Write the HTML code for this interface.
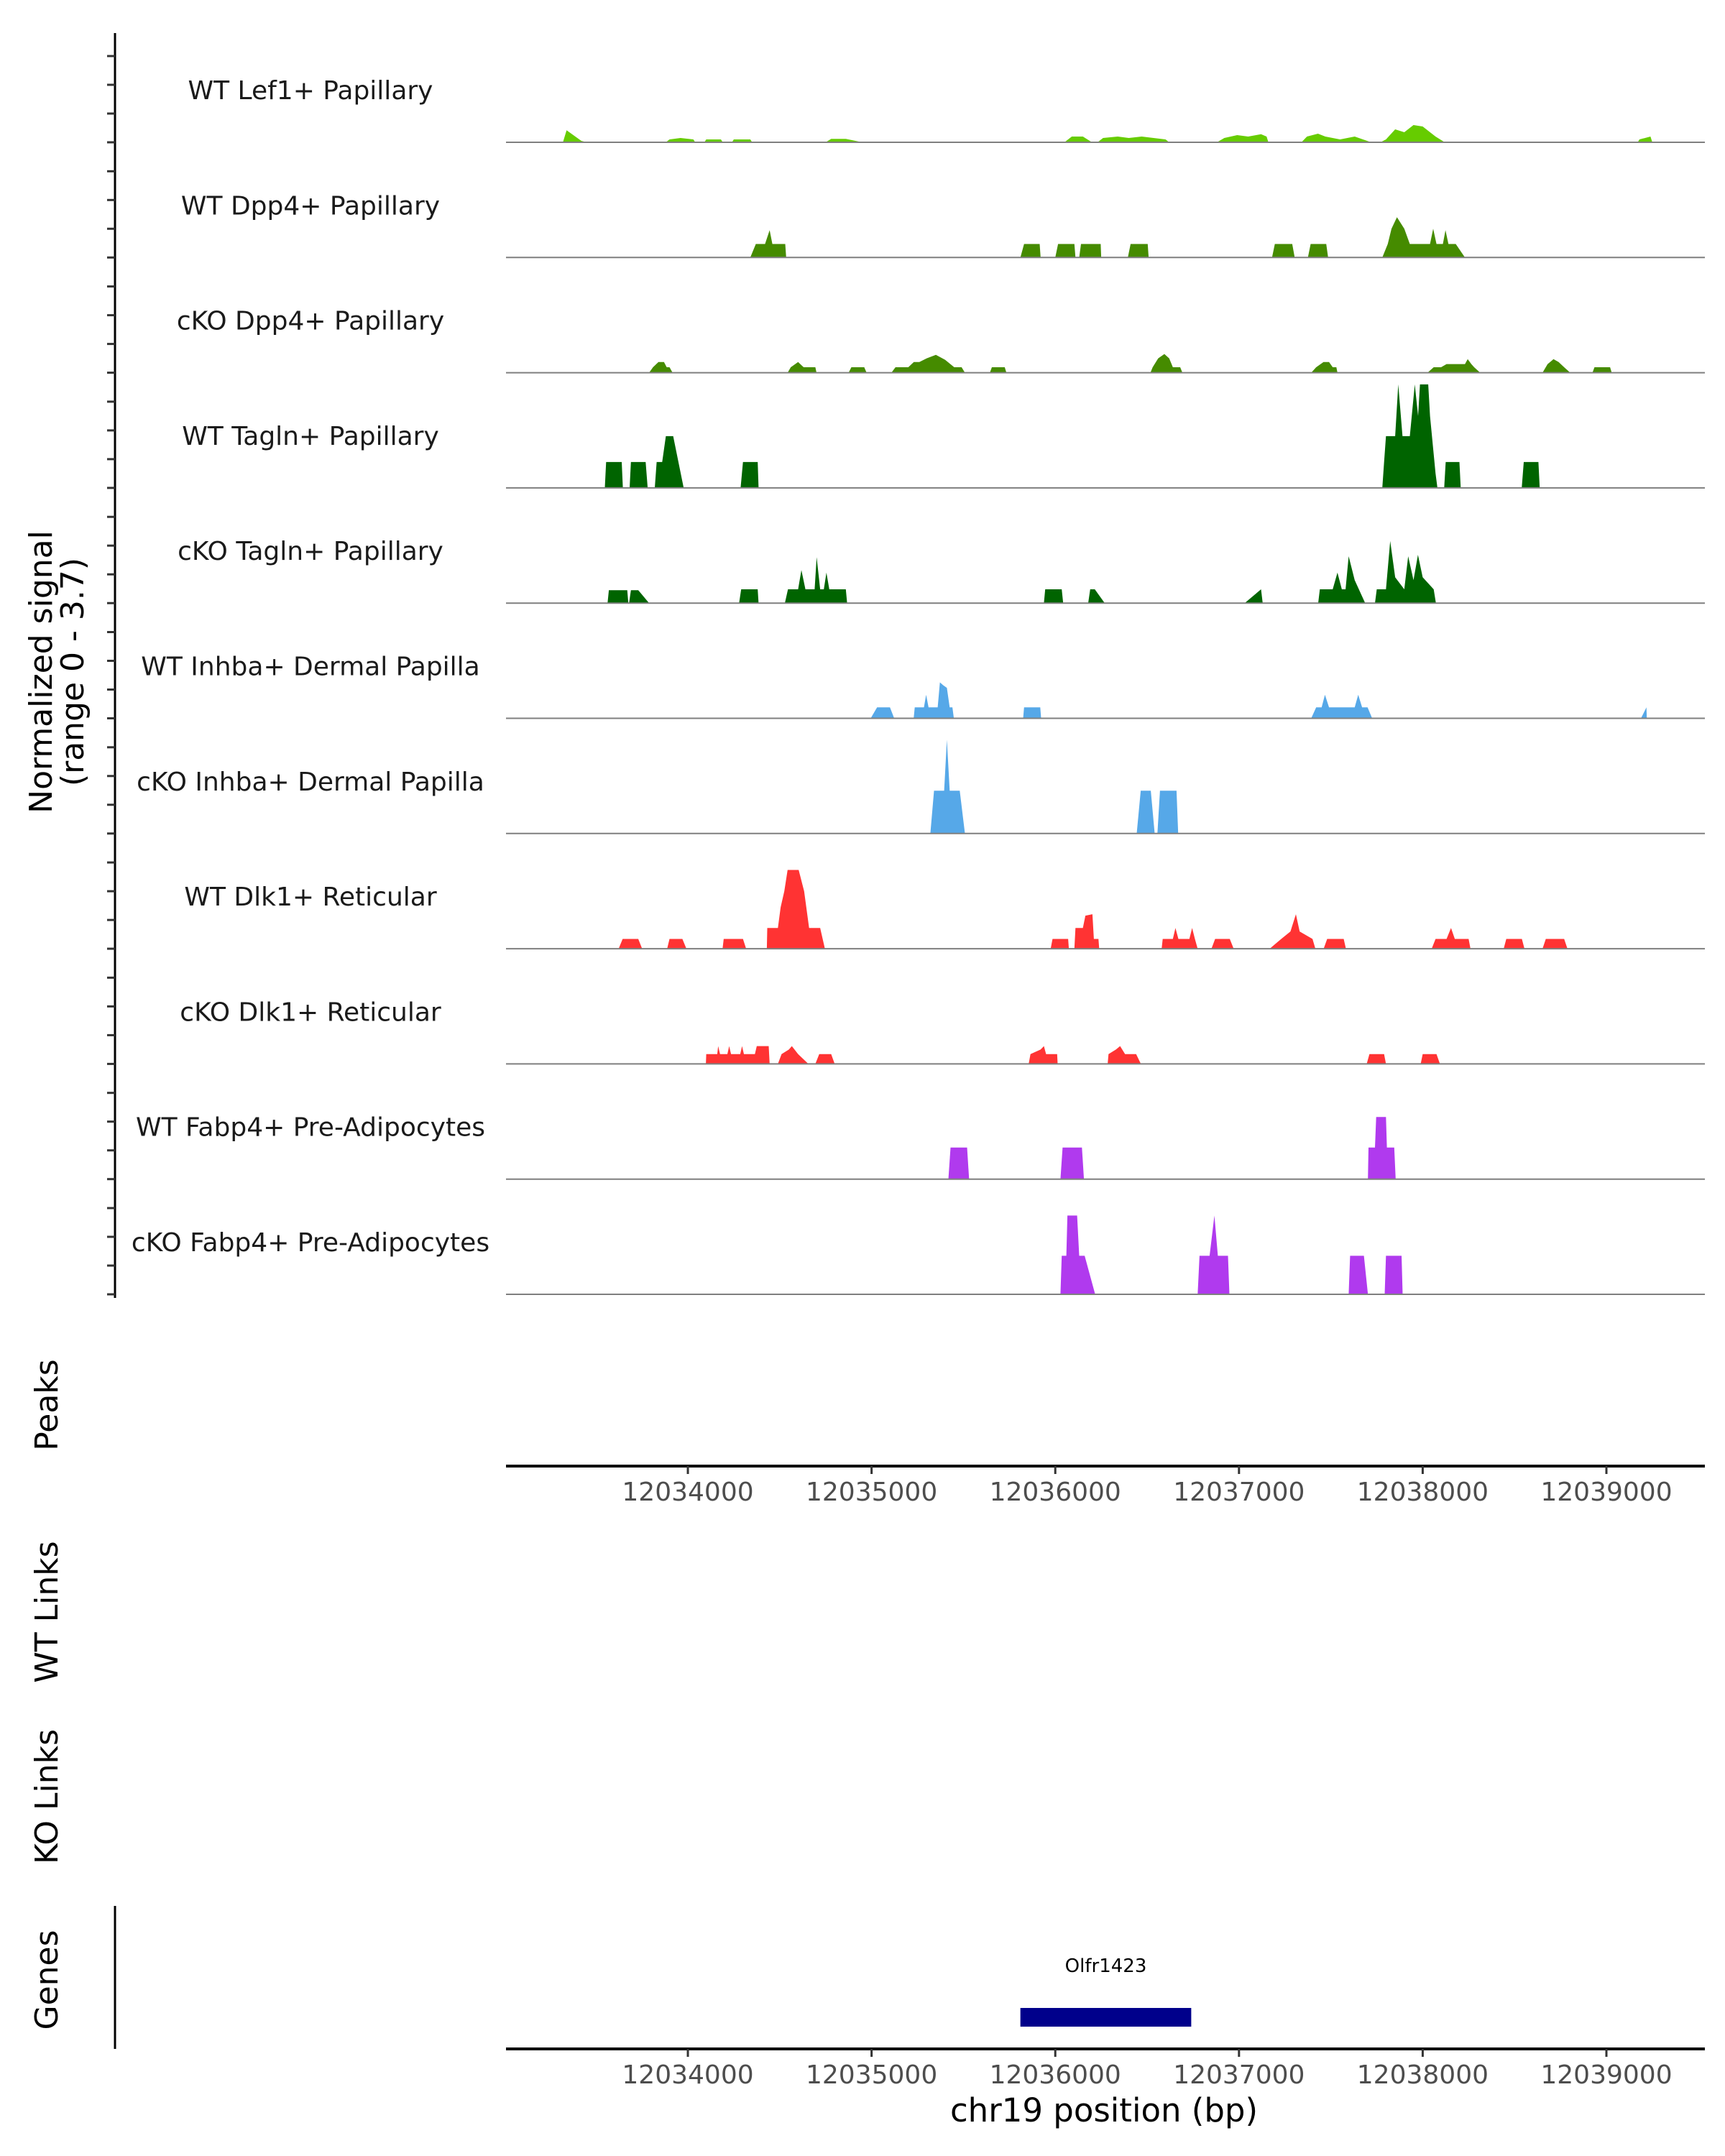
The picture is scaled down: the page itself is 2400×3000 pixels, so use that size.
<!DOCTYPE html>
<html><head><meta charset="utf-8"><style>
body{margin:0;background:#fff}
svg{display:block}
text{font-family:"DejaVu Sans","Liberation Sans",sans-serif}
</style></head><body>
<svg id="chart" width="2400" height="3000" viewBox="0 0 2400 3000" xmlns="http://www.w3.org/2000/svg">
<g id="tracks"></g>
<g id="axes"></g>
</svg>
<script>
const trackNames = ["WT Lef1+ Papillary","WT Dpp4+ Papillary","cKO Dpp4+ Papillary","WT Tagln+ Papillary","cKO Tagln+ Papillary","WT Inhba+ Dermal Papilla","cKO Inhba+ Dermal Papilla","WT Dlk1+ Reticular","cKO Dlk1+ Reticular","WT Fabp4+ Pre-Adipocytes","cKO Fabp4+ Pre-Adipocytes"];
const trackColors = ["#66CC00","#458B00","#458B00","#006400","#006400","#56A8E8","#56A8E8","#FF3333","#FF3333","#B03AEE","#B03AEE"];
const xTicks = [12034000,12035000,12036000,12037000,12038000,12039000];
const geneStart = 12035810, geneEnd = 12036740, geneName = "Olfr1423";
const lef1 = [
 [[12033320,0],[12033340,0.42],[12033420,0.05],[12033450,0]],
 [[12033880,0],[12033900,0.1],[12033960,0.15],[12034030,0.1],[12034040,0]],
 [[12034090,0],[12034100,0.1],[12034180,0.1],[12034190,0]],
 [[12034240,0],[12034250,0.1],[12034340,0.1],[12034350,0]],
 [[12034750,0],[12034780,0.12],[12034860,0.12],[12034950,0]],
 [[12036050,0],[12036090,0.2],[12036150,0.2],[12036200,0]],
 [[12036230,0],[12036260,0.15],[12036340,0.2],[12036400,0.15],[12036470,0.2],[12036600,0.1],[12036620,0]],
 [[12036880,0],[12036920,0.15],[12036990,0.25],[12037050,0.2],[12037120,0.28],[12037150,0.2],[12037160,0]],
 [[12037340,0],[12037370,0.2],[12037430,0.3],[12037470,0.2],[12037550,0.1],[12037630,0.2],[12037720,0]],
 [[12037770,0],[12037800,0.1],[12037850,0.45],[12037900,0.35],[12037950,0.6],[12038000,0.55],[12038070,0.2],[12038120,0]],
 [[12039170,0],[12039180,0.1],[12039240,0.2],[12039250,0]]
];
const wtDpp4 = [
 [[12034340,0],[12034370,0.47],[12034420,0.47],[12034445,0.95],[12034460,0.47],[12034530,0.47],[12034535,0]],
 [[12035810,0],[12035830,0.47],[12035915,0.47],[12035920,0]],
 [[12036000,0],[12036015,0.47],[12036104,0.47],[12036110,0]],
 [[12036130,0],[12036140,0.47],[12036247,0.47],[12036250,0]],
 [[12036395,0],[12036410,0.47],[12036503,0.47],[12036508,0]],
 [[12037180,0],[12037195,0.47],[12037290,0.47],[12037303,0]],
 [[12037375,0],[12037390,0.47],[12037475,0.47],[12037485,0]],
 [[12037780,0],[12037810,0.47],[12037830,1.0],[12037860,1.4],[12037900,1.0],[12037930,0.47],[12038040,0.47],[12038057,1.0],[12038075,0.47],[12038110,0.47],[12038124,0.95],[12038140,0.47],[12038180,0.47],[12038230,0]]
];
const koDpp4 = [
 [[12033789,0],[12033810,0.19],[12033840,0.37],[12033870,0.37],[12033885,0.19],[12033900,0.19],[12033917,0]],
 [[12034543,0],[12034560,0.19],[12034600,0.37],[12034630,0.19],[12034694,0.19],[12034700,0]],
 [[12034875,0],[12034890,0.19],[12034960,0.19],[12034973,0]],
 [[12035108,0],[12035130,0.19],[12035200,0.19],[12035230,0.37],[12035260,0.37],[12035300,0.5],[12035350,0.62],[12035400,0.45],[12035450,0.19],[12035490,0.19],[12035508,0]],
 [[12035644,0],[12035655,0.19],[12035725,0.19],[12035734,0]],
 [[12036518,0],[12036530,0.19],[12036560,0.5],[12036594,0.65],[12036620,0.5],[12036640,0.19],[12036680,0.19],[12036692,0]],
 [[12037393,0],[12037420,0.19],[12037460,0.37],[12037490,0.37],[12037510,0.19],[12037530,0.19],[12037536,0]],
 [[12038026,0],[12038060,0.19],[12038100,0.19],[12038130,0.3],[12038230,0.3],[12038245,0.47],[12038265,0.3],[12038280,0.19],[12038313,0]],
 [[12038652,0],[12038680,0.3],[12038712,0.47],[12038740,0.37],[12038770,0.19],[12038803,0]],
 [[12038924,0],[12038935,0.19],[12039020,0.19],[12039029,0]]
];
const wtTagln = [
 [[12033548,0],[12033555,0.9],[12033640,0.9],[12033646,0]],
 [[12033683,0],[12033690,0.9],[12033770,0.9],[12033781,0]],
 [[12033820,0],[12033830,0.9],[12033860,0.9],[12033880,1.8],[12033920,1.8],[12033977,0]],
 [[12034287,0],[12034300,0.9],[12034380,0.9],[12034385,0]],
 [[12037780,0],[12037790,0.9],[12037800,1.8],[12037850,1.8],[12037867,3.6],[12037890,1.8],[12037930,1.8],[12037957,3.6],[12037975,2.5],[12037985,3.6],[12038030,3.6],[12038040,2.5],[12038070,0.5],[12038080,0]],
 [[12038117,0],[12038125,0.9],[12038200,0.9],[12038207,0]],
 [[12038539,0],[12038550,0.9],[12038630,0.9],[12038637,0]]
];
const koTagln = [
 [[12033563,0],[12033570,0.45],[12033670,0.45],[12033676,0]],
 [[12033680,0],[12033690,0.45],[12033730,0.45],[12033789,0]],
 [[12034279,0],[12034290,0.48],[12034380,0.48],[12034385,0]],
 [[12034528,0],[12034545,0.48],[12034600,0.48],[12034618,1.15],[12034640,0.48],[12034690,0.48],[12034701,1.6],[12034720,0.48],[12034740,0.48],[12034754,1.06],[12034770,0.48],[12034860,0.48],[12034867,0]],
 [[12035938,0],[12035945,0.48],[12036035,0.48],[12036043,0]],
 [[12036179,0],[12036190,0.48],[12036215,0.48],[12036269,0]],
 [[12037031,0],[12037120,0.48],[12037129,0]],
 [[12037431,0],[12037440,0.48],[12037510,0.48],[12037536,1.06],[12037560,0.48],[12037580,0.48],[12037597,1.63],[12037630,0.8],[12037687,0]],
 [[12037740,0],[12037750,0.48],[12037800,0.48],[12037823,2.16],[12037850,0.9],[12037900,0.48],[12037921,1.63],[12037950,0.8],[12037974,1.68],[12038000,0.9],[12038060,0.48],[12038072,0]]
];
const wtInhba = [
 [[12034995,0],[12035030,0.38],[12035100,0.38],[12035123,0]],
 [[12035229,0],[12035235,0.38],[12035285,0.38],[12035297,0.82],[12035310,0.38],[12035360,0.38],[12035372,1.25],[12035390,1.15],[12035410,1.06],[12035425,0.38],[12035440,0.38],[12035448,0]],
 [[12035825,0],[12035830,0.38],[12035918,0.38],[12035923,0]],
 [[12037393,0],[12037420,0.38],[12037450,0.38],[12037468,0.82],[12037490,0.38],[12037630,0.38],[12037649,0.82],[12037670,0.38],[12037700,0.38],[12037725,0]],
 [[12039188,0],[12039218,0.38],[12039220,0]]
];
const koInhba = [
 [[12035320,0],[12035340,1.49],[12035395,1.49],[12035410,3.26],[12035425,1.49],[12035480,1.49],[12035508,0]],
 [[12036443,0],[12036465,1.49],[12036520,1.49],[12036541,0]],
 [[12036556,0],[12036570,1.49],[12036660,1.49],[12036669,0]]
];
const wtDlk1 = [
 [[12033623,0],[12033645,0.34],[12033730,0.34],[12033751,0]],
 [[12033887,0],[12033900,0.34],[12033970,0.34],[12033992,0]],
 [[12034189,0],[12034195,0.34],[12034300,0.34],[12034317,0]],
 [[12034430,0],[12034432,0.72],[12034490,0.72],[12034505,1.44],[12034525,2.0],[12034543,2.74],[12034603,2.74],[12034633,2.0],[12034660,0.72],[12034720,0.72],[12034746,0]],
 [[12035975,0],[12035985,0.34],[12036070,0.34],[12036074,0]],
 [[12036104,0],[12036110,0.72],[12036150,0.72],[12036164,1.15],[12036202,1.2],[12036210,0.34],[12036235,0.34],[12036239,0]],
 [[12036579,0],[12036585,0.34],[12036640,0.34],[12036654,0.72],[12036670,0.34],[12036730,0.34],[12036745,0.72],[12036760,0.34],[12036775,0]],
 [[12036850,0],[12036870,0.34],[12036950,0.34],[12036971,0]],
 [[12037167,0],[12037230,0.34],[12037280,0.6],[12037310,1.2],[12037330,0.6],[12037400,0.34],[12037416,0]],
 [[12037461,0],[12037480,0.34],[12037570,0.34],[12037582,0]],
 [[12038049,0],[12038070,0.34],[12038130,0.34],[12038154,0.72],[12038175,0.34],[12038250,0.34],[12038260,0]],
 [[12038441,0],[12038455,0.34],[12038540,0.34],[12038554,0]],
 [[12038652,0],[12038670,0.34],[12038770,0.34],[12038788,0]]
];
const koDlk1 = [
 [[12034098,0],[12034100,0.34],[12034160,0.34],[12034165,0.62],[12034175,0.34],[12034215,0.34],[12034225,0.62],[12034235,0.34],[12034285,0.34],[12034295,0.62],[12034305,0.34],[12034365,0.34],[12034375,0.62],[12034440,0.62],[12034445,0]],
 [[12034490,0],[12034510,0.34],[12034550,0.5],[12034566,0.62],[12034600,0.34],[12034656,0]],
 [[12034694,0],[12034715,0.34],[12034780,0.34],[12034799,0]],
 [[12035855,0],[12035865,0.34],[12035920,0.5],[12035938,0.62],[12035950,0.34],[12036010,0.34],[12036013,0]],
 [[12036285,0],[12036290,0.34],[12036330,0.5],[12036353,0.62],[12036380,0.34],[12036440,0.34],[12036466,0]],
 [[12037695,0],[12037710,0.34],[12037790,0.34],[12037800,0]],
 [[12037989,0],[12038000,0.34],[12038075,0.34],[12038094,0]]
];
const wtFabp4 = [
 [[12035418,0],[12035430,1.1],[12035520,1.1],[12035531,0]],
 [[12036028,0],[12036040,1.1],[12036145,1.1],[12036156,0]],
 [[12037702,0],[12037705,1.1],[12037740,1.1],[12037747,2.16],[12037800,2.16],[12037805,1.1],[12037845,1.1],[12037853,0]]
];
const koFabp4 = [
 [[12036028,0],[12036035,1.34],[12036060,1.34],[12036066,2.74],[12036119,2.74],[12036130,1.34],[12036160,1.34],[12036217,0]],
 [[12036775,0],[12036785,1.34],[12036840,1.34],[12036866,2.74],[12036885,1.34],[12036940,1.34],[12036948,0]],
 [[12037597,0],[12037605,1.34],[12037680,1.34],[12037702,0]],
 [[12037793,0],[12037800,1.34],[12037885,1.34],[12037891,0]]
];
const trackData = [lef1,wtDpp4,koDpp4,wtTagln,koTagln,wtInhba,koInhba,wtDlk1,koDlk1,wtFabp4,koFabp4];

const NS="http://www.w3.org/2000/svg";
const X0=704, X1=2372, BP0=12033010, BP1=12039536;
const xs = bp => X0 + (bp-BP0)/(BP1-BP0)*(X1-X0);
const base0=198, trackStep=160.3, pxPerUnit=40;
const ys = (i,v) => base0 + i*trackStep - v*pxPerUnit;
function mk(tag, attrs, parent){const e=document.createElementNS(NS,tag);for(const k in attrs)e.setAttribute(k,attrs[k]);parent.appendChild(e);return e;}
const tg=document.getElementById('tracks'), ag=document.getElementById('axes');

trackData.forEach((clusters,i)=>{
  const g=mk('g',{},tg);
  
  
  clusters.forEach(c=>{
    const pts=c.map(p=>xs(p[0]).toFixed(1)+','+ys(i,p[1]).toFixed(1)).join(' ');
    const p=mk('polygon',{points:pts,fill:trackColors[i]},g);
    
    
  });
  const bl=mk('line',{x1:X0,x2:X1,y1:ys(i,0),y2:ys(i,0),stroke:'#7f7f7f','stroke-width':2},g);
  
  
  const t=mk('text',{x:432,y:ys(i,0)-60,'font-size':36,'text-anchor':'middle',fill:'#1a1a1a'},g);
  t.textContent=trackNames[i];
  
  
});

const yl=mk('line',{x1:160,x2:160,y1:46,y2:1806,stroke:'#000','stroke-width':3},ag);


for(let i=0;i<11;i++){for(let k=0;k<4;k++){const y=ys(i,0)-k*40;
  const tk=mk('line',{x1:149,x2:160,y1:y,y2:y,stroke:'#333','stroke-width':3},ag);
  
  }}
const yt=mk('text',{transform:'translate(78,935) rotate(-90)','font-size':44,'text-anchor':'middle',fill:'#000'},ag);


const ts1=mk('tspan',{x:0,dy:-6},yt); ts1.textContent='Normalized signal';
const ts2=mk('tspan',{x:0,dy:44},yt); ts2.textContent='(range 0 - 3.7)';

function xAxis(y,name){
  const l=mk('line',{x1:X0,x2:X1,y1:y,y2:y,stroke:'#000','stroke-width':4},ag);
  
  
  xTicks.forEach(v=>{
    const tk=mk('line',{x1:xs(v),x2:xs(v),y1:y,y2:y+11,stroke:'#333','stroke-width':3},ag);
    
    
    const t=mk('text',{x:xs(v),y:y+48,'font-size':36,'text-anchor':'middle',fill:'#4d4d4d'},ag);
    t.textContent=v;
    
    
  });
}
xAxis(2040,'peaks-x-axis');
xAxis(2851,'genes-x-axis');

[['Peaks',1955,'peaks-label'],['WT Links',2243,'wt-links-label'],['KO Links',2500,'ko-links-label'],['Genes',2755,'genes-label']].forEach(a=>{
  const t=mk('text',{transform:`translate(80,${a[1]}) rotate(-90)`,'font-size':44,'text-anchor':'middle',fill:'#000'},ag);
  t.textContent=a[0];
  
  
});
const gl=mk('line',{x1:160,x2:160,y1:2652,y2:2851,stroke:'#000','stroke-width':3},ag);


const gb=mk('rect',{x:xs(geneStart),y:2794,width:xs(geneEnd)-xs(geneStart),height:26,fill:'#00008B'},ag);


const gt=mk('text',{x:(xs(geneStart)+xs(geneEnd))/2,y:2744,'font-size':26,'text-anchor':'middle',fill:'#000'},ag);
gt.textContent=geneName;


const xt=mk('text',{x:1536,y:2952,'font-size':45,'text-anchor':'middle',fill:'#000'},ag);
xt.textContent='chr19 position (bp)';


</script>
</body></html>
